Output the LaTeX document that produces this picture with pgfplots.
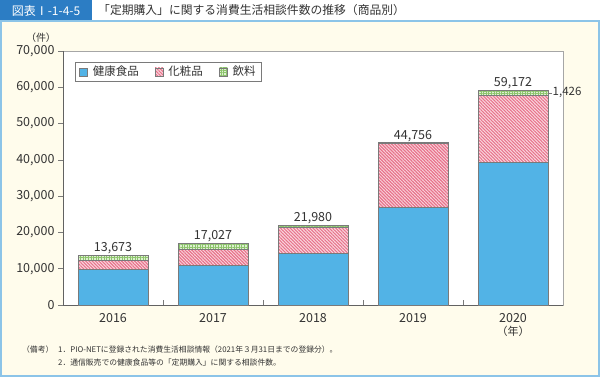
\documentclass[border=0pt]{standalone}
\usepackage{fontspec}
\setmainfont{Noto Sans CJK JP}
\usepackage{pgfplots}
\pgfplotsset{compat=1.18}
\usetikzlibrary{patterns.meta}
\definecolor{hblue}{HTML}{52B3E6}
\definecolor{cpink}{HTML}{E8738B}
\definecolor{cpinkbg}{HTML}{FAD9E0}
\definecolor{gbg}{HTML}{DDF0CF}
\definecolor{gline}{HTML}{8CC46C}
\definecolor{cream}{HTML}{FFFCEC}
\definecolor{hdrblue}{HTML}{2C7DC4}
\definecolor{bordblue}{HTML}{8CC4E8}
\definecolor{txt}{HTML}{333333}
\definecolor{barline}{HTML}{7A7A7A}
\begin{document}
\begin{tikzpicture}[x=1pt,y=1pt]
\useasboundingbox (0,0) rectangle (600,377);
\fill[cream] (0,0) rectangle (600,377);
\fill[white] (0,356) rectangle (600,377);
\fill[hdrblue] (0,356) rectangle (92,377);
\draw[bordblue, line width=1.2pt] (0,356) -- (600,356);
\draw[bordblue, line width=2pt] (1,0) -- (1,356);
\draw[bordblue, line width=2pt] (599,0) -- (599,356);
\draw[bordblue, line width=2pt] (0,1) -- (600,1);
\node[anchor=center, text=white, font=\fontsize{12}{14}\selectfont] at (46,366.5) {図表Ⅰ-1-4-5};
\node[anchor=west, text=txt, font=\fontsize{11.8}{14}\selectfont, inner sep=0pt] at (98,366.5) {「定期購入」に関する消費生活相談件数の推移（商品別）};
\node[text=txt, font=\fontsize{10}{12}\selectfont] at (41,339) {（件）};
\begin{axis}[
  at={(63pt,72pt)}, anchor=south west,
  scale only axis, width=500pt, height=254pt,
  clip=false,
  ybar stacked, bar width=0.7,
  xmin=-0.5, xmax=4.5, ymin=0, ymax=70000,
  xtick={0,1,2,3,4}, xticklabels={2016,2017,2018,2019,2020},
  xtick style={draw=none},
  ytick={0,10000,20000,30000,40000,50000,60000,70000},
  scaled y ticks=false,
  tick align=outside, major tick length=5pt,
  ytick style={draw=barline, line width=0.6pt},
  y tick label style={/pgf/number format/.cd, 1000 sep={,}, assume math mode=true},
  tick label style={font=\fontsize{12.5}{14}\selectfont, text=txt},
  xtick pos=bottom, ytick pos=left,
  axis line style={draw=gray!70, line width=0.8pt},
  axis background/.style={fill=white},
  legend style={at={(0,1)}, anchor=north west, xshift=12pt, yshift=-11pt,
    draw=barline, line width=0.6pt, font=\fontsize{11.5}{13}\selectfont, text=txt,
    legend columns=3,
    /tikz/every even column/.append style={column sep=14pt},
    /tikz/every odd column/.append style={column sep=3pt},
    inner xsep=4pt, inner ysep=2pt},
  legend image code/.code={\draw[#1] (0pt,-4pt) rectangle (8pt,4pt);},
]
\addplot[fill=hblue, draw=barline, line width=0.6pt] coordinates {(0,9900) (1,10950) (2,14300) (3,26900) (4,39261)};
\addplot[fill=cpinkbg, draw=barline, line width=0.6pt,
  postaction={pattern={Lines[angle=-45, distance=2.3pt, line width=1.15pt]}, pattern color=cpink}]
  coordinates {(0,2450) (1,4400) (2,7100) (3,17550) (4,18485)};
\addplot[fill=gbg, draw=barline, line width=0.6pt,
  postaction={pattern={Hatch[angle=0, distance=2.6pt, line width=0.8pt]}, pattern color=gline}]
  coordinates {(0,1323) (1,1677) (2,580) (3,306) (4,1426)};
\legend{健康食品,化粧品,飲料}
\draw[barline!80!black, line width=0.8pt] (rel axis cs:0,1) -- (rel axis cs:0,0) -- (rel axis cs:1,0);
\draw[barline, line width=0.6pt] (axis cs:0.5,0) -- (axis cs:0.5,1400);
\draw[barline, line width=0.6pt] (axis cs:1.5,0) -- (axis cs:1.5,1400);
\draw[barline, line width=0.6pt] (axis cs:2.5,0) -- (axis cs:2.5,1400);
\draw[barline, line width=0.6pt] (axis cs:3.5,0) -- (axis cs:3.5,1400);
\node[anchor=south, text=txt, font=\fontsize{12.5}{14}\selectfont, inner sep=1pt] at (axis cs:0,13673) {13,673};
\node[anchor=south, text=txt, font=\fontsize{12.5}{14}\selectfont, inner sep=1pt] at (axis cs:1,17027) {17,027};
\node[anchor=south, text=txt, font=\fontsize{12.5}{14}\selectfont, inner sep=1pt] at (axis cs:2,21980) {21,980};
\node[anchor=south, text=txt, font=\fontsize{12.5}{14}\selectfont, inner sep=1pt] at (axis cs:3,44756) {44,756};
\node[anchor=south, text=txt, font=\fontsize{12.5}{14}\selectfont, inner sep=1pt] at (axis cs:4,59172) {59,172};
\node[text=txt, font=\fontsize{11}{13}\selectfont] at (axis cs:4,48503) {18,485};
\node[text=txt, font=\fontsize{11}{13}\selectfont] at (axis cs:4,19630) {39,261};
\draw[barline, line width=0.6pt] (axis cs:4.35,58459) -- (axis cs:4.39,58459);
\node[anchor=west, text=txt, font=\fontsize{11.5}{13}\selectfont, inner sep=0.5pt] at (axis cs:4.39,58459) {1,426};
\end{axis}
\node[text=txt, font=\fontsize{11}{13}\selectfont] at (513,46) {（年）};
\node[anchor=west, text=txt, font=\fontsize{7.8}{9}\selectfont, inner sep=0pt] at (22,27) {（備考）};
\node[anchor=west, text=txt, font=\fontsize{7.8}{9}\selectfont, inner sep=0pt] at (58,27) {1．PIO-NETに登録された消費生活相談情報（2021年３月31日までの登録分）。};
\node[anchor=west, text=txt, font=\fontsize{7.8}{9}\selectfont, inner sep=0pt] at (58,14) {2．通信販売での健康食品等の「定期購入」に関する相談件数。};
\end{tikzpicture}
\end{document}
